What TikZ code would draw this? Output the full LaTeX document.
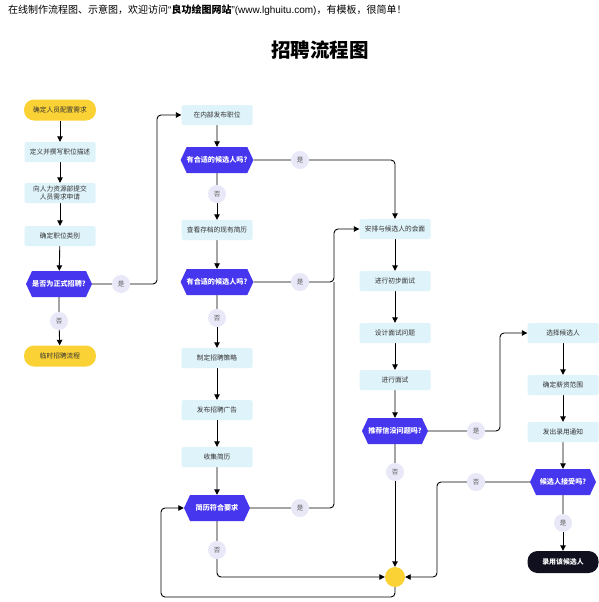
\documentclass[tikz,border=0pt]{standalone}
\usepackage{fontspec}
\setmainfont{Noto Sans CJK SC}
\newfontfamily\latinf{Liberation Sans}
\usetikzlibrary{arrows.meta,shapes.symbols,shapes.geometric}
\definecolor{yel}{HTML}{FBD236}
\definecolor{hexblue}{HTML}{4636EE}
\definecolor{lblue}{HTML}{DFF3FA}
\definecolor{lav}{HTML}{E8E8F8}
\definecolor{darkbox}{HTML}{10101F}
\definecolor{txt}{HTML}{333333}
\pgfdeclarelayer{bg}
\pgfsetlayers{bg,main}
\begin{document}
\begin{tikzpicture}[x=1pt,y=-1pt,
  box/.style={rectangle,rounded corners=1.5pt,fill=lblue,minimum width=71pt,minimum height=20pt,inner sep=1pt,font=\fontsize{6.7}{7.6}\selectfont,text=txt,align=center},
  term/.style={rectangle,rounded corners=10pt,fill=yel,minimum width=72pt,minimum height=21pt,inner sep=1pt,font=\fontsize{6.7}{7.6}\selectfont,text=txt},
  darkterm/.style={rectangle,rounded corners=10pt,fill=darkbox,minimum width=71pt,minimum height=22pt,inner sep=1pt,font=\bfseries\fontsize{6.9}{7.6}\selectfont,text=white},
  hexa/.style={signal,signal to=west and east,signal pointer angle=130,fill=hexblue,minimum width=66pt,minimum height=26pt,inner sep=0pt,font=\bfseries\fontsize{7.1}{8}\selectfont,text=white},
  lbl/.style={circle,fill=lav,minimum size=18pt,inner sep=0pt,font=\fontsize{6.5}{7}\selectfont,text=black!65},
  endpt/.style={circle,fill=yel,minimum size=20pt,inner sep=0pt},
  con/.style={draw=black,line width=0.9pt},
  arr/.style={con,-{Triangle[length=5.5pt,width=5.5pt]}},
  rc/.style={rounded corners=4pt}
]
\useasboundingbox (0,0) rectangle (599,602);

\node[anchor=west,font=\fontsize{10}{12}\selectfont,inner sep=0pt] (hdr) at (8,10) {在线制作流程图、示意图，欢迎访问{\latinf“}\textbf{良功绘图网站}{\latinf”(www.lghuitu.com)}，有模板，很简单！};
\node[font=\bfseries\fontsize{19.5}{22}\selectfont,inner sep=0pt] (title) at (320,50) {招聘流程图};

% column 1
\node[term] (n1) at (60,110) {确定人员配置需求};
\node[box] (n2) at (60,152) {定义并撰写职位描述};
\node[box] (n3) at (60,193) {向人力资源部提交\\人员需求申请};
\node[box] (n4) at (60,236) {确定职位类别};
\node[hexa] (d1) at (59,284) {是否为正式招聘?};
\node[lbl] (l1) at (59,321) {否};
\node[term] (n5) at (60,356) {临时招聘流程};
\node[lbl] (l2) at (121,284) {是};

% column 2
\node[box] (n6) at (217,115) {在内部发布职位};
\node[hexa] (d2) at (217,160) {有合适的候选人吗?};
\node[lbl] (l3) at (217,194) {否};
\node[box] (n7) at (217,230) {查看存档的现有简历};
\node[hexa] (d3) at (217,282) {有合适的候选人吗?};
\node[lbl] (l4) at (217,318) {否};
\node[box] (n8) at (217,358) {制定招聘策略};
\node[box] (n9) at (217,410) {发布招聘广告};
\node[box] (n10) at (217,457) {收集简历};
\node[hexa] (d4) at (217,508) {简历符合要求};
\node[lbl] (l5) at (217,550) {否};
\node[lbl] (l6) at (300,160) {是};
\node[lbl] (l7) at (300,282) {是};
\node[lbl] (l8) at (300,508) {是};

% column 3
\node[box] (n11) at (395,229) {安排与候选人的会面};
\node[box] (n12) at (395,281) {进行初步面试};
\node[box] (n13) at (395,333) {设计面试问题};
\node[box] (n14) at (395,380) {进行面试};
\node[hexa] (d5) at (395,431) {推荐信没问题吗?};
\node[lbl] (l9) at (395,472) {否};
\node[endpt] (end) at (395,577) {};
\node[lbl] (l10) at (476,431) {是};

% column 4
\node[box] (n15) at (563,333) {选择候选人};
\node[box] (n16) at (563,385) {确定薪资范围};
\node[box] (n17) at (563,432) {发出录用通知};
\node[hexa] (d6) at (563,482) {候选人接受吗?};
\node[lbl] (l11) at (476,482) {否};
\node[lbl] (l12) at (563,523) {是};
\node[darkterm] (n18) at (563,562) {录用该候选人};

\coordinate (c1) at (157,284);
\coordinate (c2) at (334,282);
\coordinate (c3) at (334,508);
\coordinate (c4) at (161,597);
\coordinate (c5) at (500,431);
\coordinate (c6) at (437,482);

\begin{pgfonlayer}{bg}
\fill[white] (0,0) rectangle (599,602);
\draw[arr] (n1) -- (n2);
\draw[arr] (n2) -- (n3);
\draw[arr] (n3) -- (n4);
\draw[arr] (n4) -- (d1);
\draw[con] (d1) -- (l1);
\draw[arr] (l1) -- (n5);
\draw[con] (d1) -- (l2);
\draw[arr,rc] (l2) -- (c1) |- (n6.west);

\draw[arr] (n6) -- (d2);
\draw[con] (d2) -- (l3);
\draw[arr] (l3) -- (n7);
\draw[arr] (n7) -- (d3);
\draw[con] (d3) -- (l4);
\draw[arr] (l4) -- (n8);
\draw[arr] (n8) -- (n9);
\draw[arr] (n9) -- (n10);
\draw[arr] (n10) -- (d4);
\draw[con] (d2) -- (l6);
\draw[arr,rc] (l6) -| (n11.north);
\draw[con] (d3) -- (l7);
\draw[arr,rc] (l7) -- (c2) |- (n11.west);
\draw[con] (d4) -- (l8);
\draw[con,rc] (l8) -- (c3) -- (c2);
\draw[con] (d4) -- (l5);
\draw[arr,rc] (l5) |- (end.west);
\draw[arr,rc] (end.south) |- (c4) |- (d4.west);

\draw[arr] (n11) -- (n12);
\draw[arr] (n12) -- (n13);
\draw[arr] (n13) -- (n14);
\draw[arr] (n14) -- (d5);
\draw[con] (d5) -- (l9);
\draw[arr] (l9) -- (end.north);
\draw[con] (d5) -- (l10);
\draw[arr,rc] (l10) -- (c5) |- (n15.west);

\draw[arr] (n15) -- (n16);
\draw[arr] (n16) -- (n17);
\draw[arr] (n17) -- (d6);
\draw[con] (d6) -- (l11);
\draw[arr,rc] (l11) -- (c6) |- (end.east);
\draw[con] (d6) -- (l12);
\draw[arr] (l12) -- (n18);
\end{pgfonlayer}
\end{tikzpicture}
\end{document}
